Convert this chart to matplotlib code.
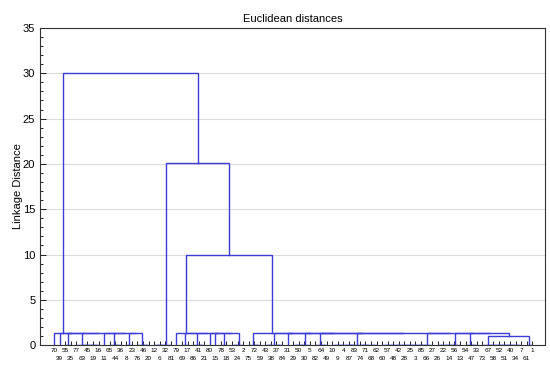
import matplotlib
matplotlib.use('Agg')
import matplotlib.pyplot as plt
from matplotlib.ticker import MultipleLocator

plt.rcParams['font.family'] = ['Liberation Sans', 'DejaVu Sans']

# leaf order along the x axis (object numbers)
leaf_labels = [70, 39, 55, 35, 77, 63, 45, 19, 16, 11, 65, 44, 36, 8, 23, 76, 46, 20, 12, 6,
               32, 81, 79, 69, 17, 86, 41, 21, 80, 15, 78, 18, 53, 24, 2, 75, 72, 59, 43, 38,
               37, 84, 31, 29, 50, 30, 5, 82, 64, 49, 10, 9, 4, 87, 83, 74, 71, 68, 62, 60,
               57, 48, 42, 28, 25, 3, 85, 66, 27, 26, 22, 14, 56, 13, 54, 47, 33, 73, 67, 58,
               52, 51, 40, 34, 7, 61, 1]

# groups of leaves joined at distance 0: (first leaf, last leaf, join order)
zero_groups = {
    'a1': (0, 0, 'L'), 'a2': (1, 1, 'L'), 'a3': (2, 3, 'L'), 'a4': (4, 8, 'R'),
    'a5': (9, 9, 'L'), 'a6': (10, 12, 'R'), 'a7': (13, 14, 'L'), 'a8': (15, 17, 'R'),
    'B1': (18, 21, 'L'),
    'x1': (22, 22, 'L'), 'x2': (23, 24, 'L'), 'x3': (25, 27, 'R'), 'x4': (28, 28, 'L'),
    'x5': (29, 29, 'L'), 'x6': (30, 31, 'L'), 'x7': (32, 34, 'L'),
    'y1': (35, 37, 'R'), 'y2': (38, 41, 'B'), 'y3': (42, 42, 'L'), 'y4': (43, 46, 'L'),
    'y5': (47, 49, 'R'), 'y6': (50, 58, 'B'), 'y7': (59, 68, 'L'), 'y8': (69, 73, 'L'),
    'y9': (74, 76, 'R'), 'z1': (77, 84, 'R'), 'z2': (85, 86, 'L'),
}

# higher merges: (new cluster, members joined in a chain, linkage distance)
merges = [
    ('A', ['a1', 'a2', 'a3', 'a4', 'a5', 'a6', 'a7', 'a8'], 1.36),
    ('B2a', ['x1', 'x2', 'x3', 'x4', 'x5', 'x6', 'x7'], 1.36),
    ('low', ['z1', 'z2'], 1.0),
    ('B2b', ['y1', 'y2', 'y3', 'y4', 'y5', 'y6', 'y7', 'y8', 'y9', 'low'], 1.36),
    ('B2', ['B2a', 'B2b'], 10.0),
    ('B', ['B1', 'B2'], 20.1),
    ('root', ['A', 'B'], 30.05),
]

segs = []

def link(left, right, h):
    xl, hl = left
    xr, hr = right
    segs.append(([xl, xl, xr, xr], [hl, h, h, hr]))
    return ((xl + xr) / 2.0, h)

def join_range(lo, hi, mode):
    nodes = [(float(i), 0.0) for i in range(lo, hi + 1)]
    if mode == 'B':
        if len(nodes) == 1:
            return nodes[0]
        mid = (lo + hi) // 2
        return link(join_range(lo, mid, 'B'), join_range(mid + 1, hi, 'B'), 0.0)
    if mode == 'L':
        node = nodes[0]
        for n in nodes[1:]:
            node = link(node, n, 0.0)
        return node
    node = nodes[-1]
    for n in reversed(nodes[:-1]):
        node = link(n, node, 0.0)
    return node

clusters = {}
for name, (lo, hi, mode) in zero_groups.items():
    clusters[name] = join_range(lo, hi, mode)

for name, members, h in merges:
    node = clusters[members[-1]]
    for m in reversed(members[:-1]):
        node = link(clusters[m], node, h)
    clusters[name] = node

fig = plt.figure(figsize=(5.5, 3.78), dpi=100)
ax = fig.add_axes([0.073, 0.087, 0.918, 0.839])

for xs, ys in segs:
    ax.plot(xs, ys, color='#3c3cd6', lw=1.0, zorder=2, solid_joinstyle='miter')

ax.set_xlim(-2.5, 88.3)
ax.set_ylim(0, 35)
ax.yaxis.set_major_locator(MultipleLocator(5))
ax.yaxis.set_minor_locator(MultipleLocator(1))
ax.grid(axis='y', which='major', color='#dcdcdc', lw=0.8, zorder=0)
ax.set_axisbelow(True)

n = len(leaf_labels)
ax.set_xticks(range(0, n, 2), [str(v) for v in leaf_labels[0::2]])
ax.set_xticks(range(1, n, 2), [str(v) for v in leaf_labels[1::2]], minor=True)
ax.tick_params(axis='x', which='both', direction='in', length=3, width=0.6, labelsize=4.6)
ax.tick_params(axis='x', which='major', pad=2)
ax.tick_params(axis='x', which='minor', pad=7.5)
ax.tick_params(axis='y', which='major', direction='in', length=4, width=0.6, labelsize=8)
ax.tick_params(axis='y', which='minor', direction='in', length=2, width=0.6)

for sp in ax.spines.values():
    sp.set_linewidth(0.8)
    sp.set_color('#333333')
    sp.set_zorder(3)

ax.set_title('Euclidean distances', fontsize=8, pad=4)
ax.set_ylabel('Linkage Distance', fontsize=8)
ax.yaxis.set_label_coords(-0.034, 0.5)

fig.savefig('out.png', dpi=100)
